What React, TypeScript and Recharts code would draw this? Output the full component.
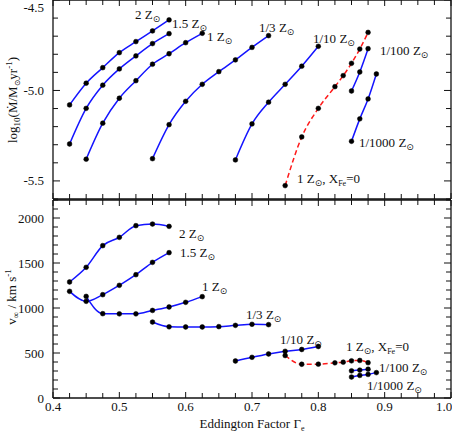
import { LineChart, Line, XAxis, YAxis } from 'recharts';

// Eddington factor grid (shared ticks)
const xTicks = [
  0.4, 0.425, 0.45, 0.475, 0.5, 0.525, 0.55, 0.575, 0.6, 0.625, 0.65, 0.675, 0.7,
  0.725, 0.75, 0.775, 0.8, 0.825, 0.85, 0.875, 0.9, 0.925, 0.95, 0.975, 1.0,
];
const mdotTicks = [-5.6, -5.5, -5.4, -5.3, -5.2, -5.1, -5.0, -4.9, -4.8, -4.7, -4.6, -4.5];
const mdotLabels = [-5.5, -5.0, -4.5];
const vTicks = [
  0, 100, 200, 300, 400, 500, 600, 700, 800, 900, 1000, 1100, 1200, 1300, 1400,
  1500, 1600, 1700, 1800, 1900, 2000, 2100, 2200,
];
const vLabels = [0, 500, 1000, 1500, 2000];
const xLabels = [0.4, 0.5, 0.6, 0.7, 0.8, 0.9, 1.0];

// 2 Zsun
const x2 = [0.425, 0.45, 0.475, 0.5, 0.525, 0.55, 0.575];
const mdot2 = [-5.08, -4.96, -4.874, -4.791, -4.73, -4.671, -4.61];
const v2 = [1289, 1452, 1693, 1785, 1915, 1933, 1907];
// 1.5 Zsun
const x15 = [0.425, 0.45, 0.475, 0.5, 0.525, 0.55, 0.575];
const mdot15 = [-5.296, -5.099, -4.971, -4.881, -4.809, -4.741, -4.686];
const v15 = [1185, 1074, 1148, 1252, 1370, 1507, 1615];
// 1 Zsun
const x1 = [0.45, 0.475, 0.5, 0.525, 0.55, 0.575, 0.6, 0.625];
const mdot1 = [-5.38, -5.181, -5.043, -4.946, -4.855, -4.797, -4.736, -4.684];
const v1 = [1129, 937, 935, 935, 973, 1011, 1063, 1126];
// 1/3 Zsun
const x3 = [0.55, 0.575, 0.6, 0.625, 0.65, 0.675, 0.7, 0.725];
const mdot3 = [-5.377, -5.189, -5.06, -4.966, -4.896, -4.831, -4.762, -4.697];
const v3 = [844, 791, 789, 789, 793, 807, 819, 815];
// 1/10 Zsun
const x10 = [0.675, 0.7, 0.725, 0.75, 0.775, 0.8];
const mdot10 = [-5.384, -5.185, -5.065, -4.966, -4.866, -4.756];
const v10 = [411, 452, 489, 519, 539, 572];
// 1 Zsun, X_Fe = 0
const xFe = [0.75, 0.775, 0.8, 0.825, 0.8375, 0.85, 0.8625, 0.875];
const mdotFe = [-5.526, -5.257, -5.099, -4.979, -4.918, -4.85, -4.771, -4.679];
const vFe = [472, 375, 376, 391, 398, 413, 417, 392];
// 1/100 Zsun
const x100 = [0.85, 0.8625, 0.875];
const mdot100 = [-5.003, -4.898, -4.769];
const v100 = [302, 310, 320];
// 1/1000 Zsun
const x1000 = [0.85, 0.8625, 0.875, 0.8875];
const mdot1000 = [-5.281, -5.157, -5.047, -4.909];
const v1000 = [233, 251, 262, 282];

const BLUE = '#1414ff';
const RED = '#ff1a1a';
const FRAME = '#111';
const FONT = 'Liberation Serif';

const X_DOMAIN = [0.4, 1.0];
const MDOT_DOMAIN = [-5.6, -4.5];
const V_DOMAIN = [0, 2200];

// plot rectangles that follow from the chart sizes / margins below
const PLOT_L = 53;
const PLOT_R = 451;
const TOP_Y0 = 0;
const TOP_Y1 = 199;
const BOT_Y0 = 200;
const BOT_Y1 = 398;

const series = [
  { id: '2', xs: x2, mdot: mdot2, v: v2, color: BLUE, dash: undefined },
  { id: '15', xs: x15, mdot: mdot15, v: v15, color: BLUE, dash: undefined },
  { id: '1', xs: x1, mdot: mdot1, v: v1, color: BLUE, dash: undefined },
  { id: '3', xs: x3, mdot: mdot3, v: v3, color: BLUE, dash: undefined },
  { id: '10', xs: x10, mdot: mdot10, v: v10, color: BLUE, dash: undefined },
  { id: '100', xs: x100, mdot: mdot100, v: v100, color: BLUE, dash: undefined },
  { id: '1000', xs: x1000, mdot: mdot1000, v: v1000, color: BLUE, dash: undefined },
  { id: 'fe', xs: xFe, mdot: mdotFe, v: vFe, color: RED, dash: '5 3' },
];

const near = (list: number[], v: number) => list.some((t) => Math.abs(t - v) < 1e-6);
const lin = (d: number[], r: number[]) => (v: number) => r[0] + ((v - d[0]) / (d[1] - d[0])) * (r[1] - r[0]);

const LeftTick = (labels: number[], digits: number, minY: number) => (p: any) => {
  const v = p.payload.value;
  if (!near(labels, v)) return <g />;
  return (
    <text x={p.x} y={Math.max(p.y, minY)} dy="0.35em" textAnchor="end" fontSize={13} fontFamily={FONT} fill="#111">
      {v.toFixed(digits)}
    </text>
  );
};

const BottomTick = (show: boolean) => (p: any) => {
  const v = p.payload.value;
  if (!show || !near(xLabels, v)) return <g />;
  return (
    <text x={Math.min(p.x, 444)} y={p.y} dy="0.71em" textAnchor="middle" fontSize={13} fontFamily={FONT} fill="#111">
      {v.toFixed(1)}
    </text>
  );
};

const Blank = () => <g />;

function Frame(props: { yDomain: number[]; yTicks: number[]; leftTick: any; showX: boolean; xHeight: number }) {
  return [
    <XAxis
      key="xb"
      xAxisId="b"
      type="number"
      dataKey="x"
      orientation="bottom"
      domain={X_DOMAIN}
      ticks={xTicks}
      allowDataOverflow
      height={props.xHeight}
      tickSize={0}
      tickMargin={4}
      tickLine={false}
      stroke={FRAME}
      strokeWidth={1.3}
      tick={BottomTick(props.showX)}
      interval={0}
    />,
    <XAxis
      key="xt"
      xAxisId="t"
      type="number"
      orientation="top"
      domain={X_DOMAIN}
      ticks={xTicks}
      allowDataOverflow
      height={1}
      tickSize={0}
      tickLine={false}
      stroke={FRAME}
      strokeWidth={1.3}
      tick={Blank}
      interval={0}
    />,
    <YAxis
      key="yl"
      yAxisId="l"
      type="number"
      orientation="left"
      domain={props.yDomain}
      ticks={props.yTicks}
      allowDataOverflow
      width={PLOT_L}
      tickSize={0}
      tickMargin={9}
      tickLine={false}
      stroke={FRAME}
      strokeWidth={1.3}
      tick={props.leftTick}
      interval={0}
    />,
    <YAxis
      key="yr"
      yAxisId="r"
      type="number"
      orientation="right"
      domain={props.yDomain}
      ticks={props.yTicks}
      allowDataOverflow
      width={1}
      tickSize={0}
      tickLine={false}
      stroke={FRAME}
      strokeWidth={1.3}
      tick={Blank}
      interval={0}
    />,
  ];
}

// inward tick marks on all four sides of a panel
function TickMarks(props: { y0: number; y1: number; yDomain: number[]; yTicks: number[]; yMajor: number[] }) {
  const sx = lin(X_DOMAIN, [PLOT_L, PLOT_R]);
  const sy = lin(props.yDomain, [props.y1, props.y0]);
  const d: string[] = [];
  xTicks.forEach((t) => {
    const x = sx(t);
    const len = near(xLabels, t) ? 6 : 5;
    d.push(`M${x},${props.y0}v${len}`, `M${x},${props.y1}v${-len}`);
  });
  props.yTicks.forEach((t) => {
    const y = sy(t);
    const len = near(props.yMajor, t) ? 7 : 5;
    d.push(`M${PLOT_L},${y}h${len}`, `M${PLOT_R},${y}h${-len}`);
  });
  return <path d={d.join('')} stroke={FRAME} strokeWidth={1} fill="none" />;
}

function Zsun(props: { x: number; y: number; pre: string; post?: boolean }) {
  return (
    <text x={props.x} y={props.y} fontSize={13} fontFamily={FONT} fill="#111">
      {props.pre} Z
      <tspan fontSize={9} dy={3} fontFamily="DejaVu Sans">⊙</tspan>
      {props.post ? (
        <>
          <tspan dy={-3}>, X</tspan>
          <tspan fontSize={8} dy={3}>Fe</tspan>
          <tspan dy={-3}>=0</tspan>
        </>
      ) : null}
    </text>
  );
}

export default function App() {
  const lines = (key: 'mdot' | 'v') =>
    series.map((s) => (
      <Line
        key={s.id}
        xAxisId="b"
        yAxisId="l"
        data={s.xs.map((x, i) => ({ x, y: s[key][i] }))}
        dataKey="y"
        type="monotone"
        stroke={s.color}
        strokeWidth={1.5}
        strokeDasharray={s.dash}
        dot={{ r: 2.4, fill: '#000', stroke: '#000', strokeWidth: 0.5, strokeDasharray: '' }}
        isAnimationActive={false}
      />
    ));

  return (
    <div style={{ position: 'absolute', left: 0, top: 0, width: 452, height: 434, background: '#fff' }}>
      <div style={{ position: 'absolute', left: 0, top: -1 }}>
        <LineChart width={452} height={202} margin={{ top: 0, right: 0, bottom: 1, left: 0 }}>
          {Frame({
            yDomain: MDOT_DOMAIN,
            yTicks: mdotTicks,
            leftTick: LeftTick(mdotLabels, 1, 8),
            showX: false,
            xHeight: 1,
          })}
          {lines('mdot')}
        </LineChart>
      </div>
      <div style={{ position: 'absolute', left: 0, top: 198 }}>
        <LineChart width={452} height={236} margin={{ top: 1, right: 0, bottom: 0, left: 0 }}>
          {Frame({
            yDomain: V_DOMAIN,
            yTicks: vTicks,
            leftTick: LeftTick(vLabels, 0, 0),
            showX: true,
            xHeight: 36,
          })}
          {lines('v')}
        </LineChart>
      </div>
      <svg
        width={452}
        height={434}
        style={{ position: 'absolute', left: 0, top: 0, pointerEvents: 'none' }}
      >
        <TickMarks y0={TOP_Y0} y1={TOP_Y1} yDomain={MDOT_DOMAIN} yTicks={mdotTicks} yMajor={mdotLabels} />
        <TickMarks y0={BOT_Y0} y1={BOT_Y1} yDomain={V_DOMAIN} yTicks={vTicks} yMajor={vLabels} />
        {/* upper panel labels */}
        <Zsun x={135} y={19} pre="2" />
        <Zsun x={172} y={28} pre="1.5" />
        <Zsun x={207} y={41} pre="1" />
        <Zsun x={259} y={32} pre="1/3" />
        <Zsun x={313} y={43} pre="1/10" />
        <Zsun x={380} y={55} pre="1/100" />
        <Zsun x={359} y={147} pre="1/1000" />
        <Zsun x={297} y={183} pre="1" post />
        {/* lower panel labels */}
        <Zsun x={179} y={238} pre="2" />
        <Zsun x={180} y={257} pre="1.5" />
        <Zsun x={202} y={291} pre="1" />
        <Zsun x={246} y={319} pre="1/3" />
        <Zsun x={280} y={344} pre="1/10" />
        <Zsun x={346} y={351} pre="1" post />
        <Zsun x={379} y={372} pre="1/100" />
        <Zsun x={367} y={390} pre="1/1000" />
        {/* axis titles */}
        <text
          transform="translate(17,100) rotate(-90)"
          textAnchor="middle"
          fontSize={13}
          fontFamily={FONT}
          fill="#111"
        >
          log
          <tspan fontSize={9} dy={3}>10</tspan>
          <tspan dy={-3}>(Ṁ/M</tspan>
          <tspan fontSize={8} dy={3} fontFamily="DejaVu Sans">⊙</tspan>
          <tspan dy={-3}>yr</tspan>
          <tspan fontSize={9} dy={-5}>-1</tspan>
          <tspan dy={5}>)</tspan>
        </text>
        <text
          transform="translate(16,297) rotate(-90)"
          textAnchor="middle"
          fontSize={13}
          fontFamily={FONT}
          fill="#111"
        >
          v
          <tspan fontSize={9} dy={3}>∞</tspan>
          <tspan dy={-3}> / km s</tspan>
          <tspan fontSize={9} dy={-5}>-1</tspan>
        </text>
        <text x={252} y={428} textAnchor="middle" fontSize={13} fontFamily={FONT} fill="#111">
          Eddington Factor Γ
          <tspan fontSize={8} dy={3}>e</tspan>
        </text>
      </svg>
    </div>
  );
}
